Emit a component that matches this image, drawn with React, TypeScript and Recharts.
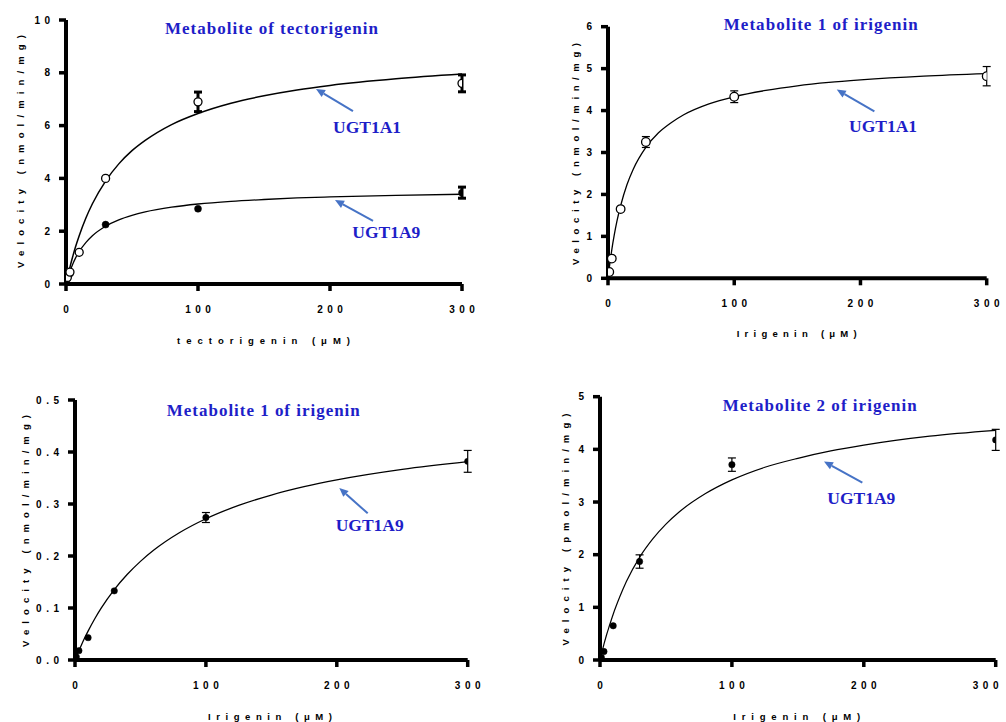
import React from 'react';
import { ComposedChart, Line, Scatter, XAxis, YAxis, ErrorBar, ReferenceLine } from 'recharts';

// ---------- data ----------
const xTicks = [0, 100, 200, 300];

// Panel A: Metabolite of tectorigenin
const tectoX = [1, 3, 10, 30, 100, 300];
const tectoUGT1A1 = [0.25, 0.45, 1.2, 4.0, 6.9, 7.6];
const tectoUGT1A1Err = [null, null, null, null, 0.37, 0.32];
const tectoUGT1A9 = [0.2, 0.4, 1.2, 2.25, 2.85, 3.46];
const tectoUGT1A9Err = [null, null, null, null, null, 0.21];
const curveX = [1, 2, 3, 5, 7, 10, 15, 20, 30, 40, 50, 60, 80, 100, 125, 150, 175, 200, 250, 300];
const tectoFit1A1 = [0.22, 0.44, 0.64, 1.02, 1.37, 1.83, 2.49, 3.04, 3.9, 4.55, 5.05, 5.44, 6.04, 6.46, 6.85, 7.13, 7.35, 7.52, 7.77, 7.95];
const tectoFit1A9 = [0.18, 0.34, 0.48, 0.74, 0.96, 1.23, 1.57, 1.83, 2.19, 2.43, 2.6, 2.73, 2.91, 3.03, 3.13, 3.2, 3.26, 3.3, 3.36, 3.4];
const tectoYTicks = [0, 2, 4, 6, 8, 10];

// Panel B: Metabolite 1 of irigenin, UGT1A1
const iriX = [1, 3, 10, 30, 100, 300];
const iri1A1 = [0.15, 0.47, 1.65, 3.25, 4.33, 4.82];
const iri1A1Err = [null, null, null, 0.13, 0.14, 0.23];
const iri1A1Fit = [0.25, 0.47, 0.68, 1.04, 1.35, 1.73, 2.23, 2.6, 3.12, 3.47, 3.71, 3.9, 4.16, 4.33, 4.48, 4.59, 4.67, 4.73, 4.82, 4.88];
const iri1A1YTicks = [0, 1, 2, 3, 4, 5, 6];

// Panel C: Metabolite 1 of irigenin, UGT1A9
const iriM1A9 = [0.006, 0.018, 0.043, 0.133, 0.274, 0.382];
const iriM1A9Err = [null, null, null, null, 0.0096, 0.021];
const iriM1A9Fit = [0.0062, 0.0123, 0.0182, 0.0295, 0.0403, 0.0556, 0.0788, 0.0996, 0.1353, 0.1648, 0.1897, 0.2109, 0.2451, 0.2716, 0.2973, 0.3173, 0.3333, 0.3464, 0.3666, 0.3814];
const iriM1A9YTicks = [0, 0.1, 0.2, 0.3, 0.4, 0.5];

// Panel D: Metabolite 2 of irigenin, UGT1A9
const iriM2A9 = [0.05, 0.16, 0.65, 1.87, 3.71, 4.18];
const iriM2A9Err = [null, null, null, 0.127, 0.127, 0.2];
const iriM2A9Fit = [0.1, 0.2, 0.3, 0.48, 0.64, 0.87, 1.2, 1.49, 1.95, 2.3, 2.58, 2.81, 3.16, 3.42, 3.66, 3.83, 3.97, 4.08, 4.25, 4.36];
const iriM2A9YTicks = [0, 1, 2, 3, 4, 5];

const zipPts = (xs: number[], ys: number[], es?: (number | null)[]) =>
  xs.map((x, i) => ({ x, y: ys[i], e: es && es[i] != null ? es[i] : undefined }));

// ---------- styling ----------
const TICK_FONT = '"Liberation Sans", Arial, sans-serif';
const SERIF = '"Liberation Serif", "Times New Roman", serif';
const TITLE_BLUE = '#1E1EC8';
const ARROW_BLUE = '#4673C6';
const LS = 4.5;

const makeXTick = (fmt: (v: number) => string, maxX: number) => (props: any) => {
  const { x, y, payload } = props;
  const label = fmt(payload.value);
  const halfW = (label.length * 5.6 + label.length * LS) / 2;
  const clamp = x + halfW > maxX - 2;
  return (
    <text
      x={clamp ? maxX - 3 : x + LS / 2}
      y={y + 20}
      textAnchor={clamp ? 'end' : 'middle'}
      fontFamily={TICK_FONT}
      fontWeight="bold"
      fontSize={10}
      letterSpacing={LS}
      fill="#000"
    >
      {label}
    </text>
  );
};
const makeYTick = (fmt: (v: number) => string) => (props: any) => {
  const { x, y, payload } = props;
  return (
    <text x={x + LS} y={y + 3.5} textAnchor="end" fontFamily={TICK_FONT} fontWeight="bold" fontSize={10} letterSpacing={LS} fill="#000">
      {fmt(payload.value)}
    </text>
  );
};

const openCircle = (r: number) => (props: any) => (
  <circle cx={props.cx} cy={props.cy} r={r} fill="#fff" stroke="#000" strokeWidth={1.3} />
);
const filledCircle = (r: number) => (props: any) => (
  <circle cx={props.cx} cy={props.cy} r={r} fill="#000" stroke="#000" strokeWidth={0.5} />
);

const arrowShape = (props: any) => {
  const { x1, y1, x2, y2 } = props;
  if ([x1, y1, x2, y2].some((v) => typeof v !== 'number' || isNaN(v))) return null;
  const ang = Math.atan2(y2 - y1, x2 - x1);
  const L = 9;
  const W = 4;
  const bx = x2 - L * Math.cos(ang);
  const by = y2 - L * Math.sin(ang);
  const px = -Math.sin(ang) * W;
  const py = Math.cos(ang) * W;
  return (
    <g>
      <line x1={x1} y1={y1} x2={bx} y2={by} stroke={ARROW_BLUE} strokeWidth={2} />
      <polygon points={`${x2},${y2} ${bx + px},${by + py} ${bx - px},${by - py}`} fill={ARROW_BLUE} />
    </g>
  );
};

type SeriesDef = { pts: any[]; shape: any; errWidth: number };
type PanelProps = {
  left: number; top: number; width: number; height: number;
  margin: { top: number; right: number; bottom: number; left: number };
  yWidth: number;
  yDomain: [number, number];
  yTicks: number[];
  yFmt: (v: number) => string;
  curves: { data: any[]; width: number }[];
  series: SeriesDef[];
  arrows: { x: number; y: number }[][];
};

const Panel = (p: PanelProps) => (
  <div style={{ position: 'absolute', left: p.left, top: p.top }}>
    <ComposedChart width={p.width} height={p.height} margin={p.margin}>
      <XAxis
        type="number"
        dataKey="x"
        domain={[0, 300]}
        ticks={xTicks}
        interval={0}
        allowDataOverflow
        height={30}
        axisLine={{ stroke: '#000', strokeWidth: 4 }}
        tickLine={{ stroke: '#000', strokeWidth: 3.5 }}
        tickSize={7}
        tickMargin={2}
        tick={makeXTick((v) => String(v), p.width)}
      />
      <YAxis
        type="number"
        dataKey="y"
        domain={p.yDomain}
        ticks={p.yTicks}
        interval={0}
        allowDataOverflow
        width={p.yWidth}
        axisLine={{ stroke: '#000', strokeWidth: 4 }}
        tickLine={{ stroke: '#000', strokeWidth: 3.5 }}
        tickSize={7}
        tickMargin={9}
        tick={makeYTick(p.yFmt)}
      />
      {p.curves.map((c, i) => (
        <Line key={'c' + i} data={c.data} dataKey="y" type="monotone" dot={false} activeDot={false} stroke="#000" strokeWidth={c.width} isAnimationActive={false} />
      ))}
      {p.series.map((s, i) => (
        <Scatter key={'s' + i} data={s.pts} dataKey="y" shape={s.shape} isAnimationActive={false}>
          <ErrorBar dataKey="e" direction="y" width={4} stroke="#000" strokeWidth={s.errWidth} />
        </Scatter>
      ))}
      {p.arrows.map((seg, i) => (
        <ReferenceLine key={'a' + i} segment={seg} shape={arrowShape} ifOverflow="visible" />
      ))}
    </ComposedChart>
  </div>
);

const AxisText = (props: { x: number; y: number; len: number; text: string; vertical?: boolean }) => (
  <text
    x={props.x}
    y={props.y}
    transform={props.vertical ? `rotate(-90 ${props.x} ${props.y})` : undefined}
    textAnchor="middle"
    fontFamily={TICK_FONT}
    fontWeight="bold"
    fontSize={9.5}
    textLength={props.len}
    lengthAdjust="spacing"
    fill="#000"
  >
    {props.text}
  </text>
);

const Title = (props: { x: number; y: number; len: number; text: string }) => (
  <text x={props.x} y={props.y} textAnchor="middle" fontFamily={SERIF} fontWeight="bold" fontSize={17} textLength={props.len} lengthAdjust="spacing" fill={TITLE_BLUE}>
    {props.text}
  </text>
);
const Tag = (props: { x: number; y: number; text: string }) => (
  <text x={props.x} y={props.y} textAnchor="start" fontFamily={SERIF} fontWeight="bold" fontSize={17.5} fill={TITLE_BLUE}>
    {props.text}
  </text>
);

export default function App() {
  const fmtInt = (v: number) => String(v);
  const fmt1 = (v: number) => v.toFixed(1);
  return (
    <div style={{ position: 'absolute', left: 0, top: 0, width: 1006, height: 722, background: '#fff', overflow: 'hidden' }}>
      <Panel
        left={0} top={0} width={500} height={360}
        margin={{ top: 20, right: 38, bottom: 46, left: 0 }}
        yWidth={66}
        yDomain={[0, 10]} yTicks={tectoYTicks} yFmt={fmtInt}
        curves={[
          { data: zipPts(curveX, tectoFit1A1), width: 1.5 },
          { data: zipPts(curveX, tectoFit1A9), width: 1.3 },
        ]}
        series={[
          { pts: zipPts(tectoX, tectoUGT1A9, tectoUGT1A9Err), shape: filledCircle(3.5), errWidth: 3 },
          { pts: zipPts(tectoX, tectoUGT1A1, tectoUGT1A1Err), shape: openCircle(4), errWidth: 3 },
        ]}
        arrows={[
          [{ x: 217.4, y: 6.55 }, { x: 189.4, y: 7.39 }],
          [{ x: 232.6, y: 2.39 }, { x: 203.8, y: 3.18 }],
        ]}
      />
      <Panel
        left={540} top={0} width={466} height={350}
        margin={{ top: 26.7, right: 19.3, bottom: 41.7, left: 0 }}
        yWidth={68}
        yDomain={[0, 6]} yTicks={iri1A1YTicks} yFmt={fmtInt}
        curves={[{ data: zipPts(curveX, iri1A1Fit), width: 1.3 }]}
        series={[{ pts: zipPts(iriX, iri1A1, iri1A1Err), shape: openCircle(4.3), errWidth: 1.2 }]}
        arrows={[[{ x: 211, y: 3.98 }, { x: 181.2, y: 4.5 }]]}
      />
      <Panel
        left={0} top={380} width={500} height={342}
        margin={{ top: 20, right: 32.3, bottom: 32, left: 0 }}
        yWidth={75}
        yDomain={[0, 0.5]} yTicks={iriM1A9YTicks} yFmt={fmt1}
        curves={[{ data: zipPts(curveX, iriM1A9Fit), width: 1.3 }]}
        series={[{ pts: zipPts(iriX, iriM1A9, iriM1A9Err), shape: filledCircle(3.2), errWidth: 1.2 }]}
        arrows={[[{ x: 223.6, y: 0.282 }, { x: 201.9, y: 0.331 }]]}
      />
      <Panel
        left={540} top={380} width={466} height={342}
        margin={{ top: 16.7, right: 10.3, bottom: 32, left: 0 }}
        yWidth={60}
        yDomain={[0, 5]} yTicks={iriM2A9YTicks} yFmt={fmtInt}
        curves={[{ data: zipPts(curveX, iriM2A9Fit), width: 1.2 }]}
        series={[{ pts: zipPts(iriX, iriM2A9, iriM2A9Err), shape: filledCircle(3.2), errWidth: 1.2 }]}
        arrows={[[{ x: 198.9, y: 3.37 }, { x: 169.8, y: 3.77 }]]}
      />
      <svg width={1006} height={722} style={{ position: 'absolute', left: 0, top: 0, pointerEvents: 'none' }}>
        <Title x={271.5} y={34} len={213} text="Metabolite of tectorigenin" />
        <Title x={820.8} y={29.5} len={194} text="Metabolite 1 of irigenin" />
        <Title x={263.3} y={416} len={193} text="Metabolite 1 of irigenin" />
        <Title x={819.7} y={411} len={194} text="Metabolite 2 of irigenin" />
        <Tag x={333} y={133} text="UGT1A1" />
        <Tag x={352.3} y={238} text="UGT1A9" />
        <Tag x={849} y={131.5} text="UGT1A1" />
        <Tag x={335.7} y={531} text="UGT1A9" />
        <Tag x={827.3} y={503.5} text="UGT1A9" />
        <AxisText x={24} y={151.5} len={233} vertical text="Velocity (nmol/min/mg)" />
        <AxisText x={579} y={154} len={222} vertical text="Velocity (nmol/min/mg)" />
        <AxisText x={29} y={531} len={232} vertical text="Velocity (nmol/min/mg)" />
        <AxisText x={569} y={529.5} len={232} vertical text="Velocity (pmol/min/mg)" />
        <AxisText x={263.5} y={343.5} len={173} text="tectorigenin (μM)" />
        <AxisText x={796.7} y={336.5} len={120} text="Irigenin (μM)" />
        <AxisText x={270} y={720} len={124} text="Irigenin (μM)" />
        <AxisText x={796.7} y={720} len={127} text="Irigenin (μM)" />
      </svg>
    </div>
  );
}
